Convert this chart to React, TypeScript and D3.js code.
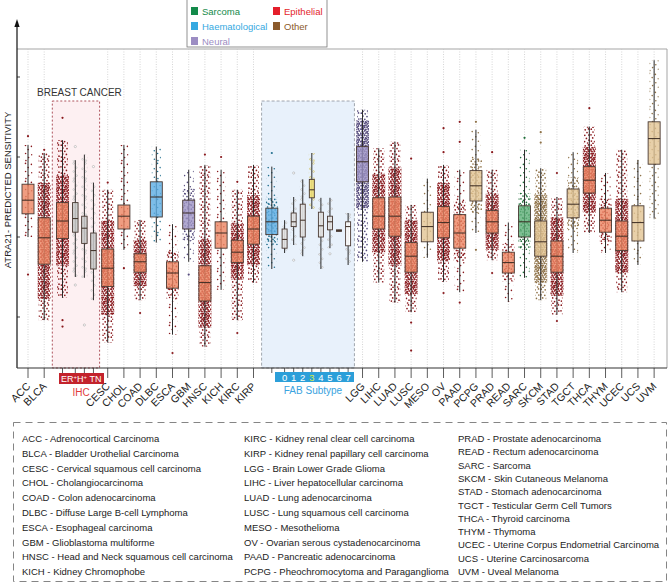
import React, { useRef, useEffect } from "react";
import * as d3 from "d3";

const W = 669;
const H = 587;
const FONT = "'Liberation Sans', Arial, Helvetica, sans-serif";

// cancer types along the x axis (BRCA and LAML carry their own sub-groups)
const categories = ["ACC", "BLCA", "BRCA", "CESC", "CHOL", "COAD", "DLBC", "ESCA", "GBM", "HNSC", "KICH", "KIRC", "KIRP", "LAML", "LGG", "LIHC", "LUAD", "LUSC", "MESO", "OV", "PAAD", "PCPG", "PRAD", "READ", "SARC", "SKCM", "STAD", "TGCT", "THCA", "THYM", "UCEC", "UCS", "UVM"];
const tissue = ["Epithelial", "Epithelial", "Epithelial", "Epithelial", "Epithelial", "Epithelial", "Haematological", "Epithelial", "Neural", "Epithelial", "Epithelial", "Epithelial", "Epithelial", "Haematological", "Neural", "Epithelial", "Epithelial", "Epithelial", "Other", "Epithelial", "Epithelial", "Other", "Epithelial", "Epithelial", "Sarcoma", "Other", "Epithelial", "Other", "Epithelial", "Epithelial", "Epithelial", "Other", "Other"];

// box plot stats (arbitrary sensitivity units)
const whiskerLow = [2.0, 0.96, 1.24, 0.68, 1.84, 1.21, 1.93, 0.78, 1.69, 0.63, 1.34, 0.96, 1.43, 1.6, 1.69, 1.43, 1.18, 1.06, 1.74, 1.44, 1.31, 2.05, 1.71, 1.19, 1.49, 1.21, 1.03, 1.8, 2.05, 1.8, 1.31, 1.65, 2.23];
const q1 = [2.29, 1.66, 1.98, 1.38, 2.1, 1.56, 2.25, 1.36, 2.1, 1.2, 1.86, 1.68, 1.91, 2.03, 2.69, 2.1, 2.01, 1.56, 1.94, 1.99, 1.86, 2.45, 2.05, 1.55, 2.0, 1.76, 1.56, 2.24, 2.55, 2.06, 1.83, 1.95, 2.91];
const median = [2.46, 1.99, 2.2, 1.61, 2.26, 1.69, 2.5, 1.55, 2.3, 1.43, 2.05, 1.81, 2.1, 2.19, 2.94, 2.26, 2.26, 1.76, 2.13, 2.18, 2.05, 2.64, 2.19, 1.68, 2.19, 1.94, 1.76, 2.41, 2.71, 2.21, 2.01, 2.18, 3.23];
const q3 = [2.66, 2.24, 2.43, 1.85, 2.4, 1.79, 2.69, 1.69, 2.46, 1.64, 2.19, 1.96, 2.26, 2.36, 3.13, 2.49, 2.5, 1.93, 2.31, 2.38, 2.28, 2.83, 2.33, 1.81, 2.39, 2.2, 1.95, 2.6, 2.88, 2.36, 2.2, 2.39, 3.44];
const whiskerHigh = [3.15, 3.05, 3.21, 2.59, 3.15, 2.21, 3.13, 2.16, 2.84, 2.9, 2.84, 2.59, 2.9, 2.88, 3.59, 3.11, 3.19, 2.4, 2.73, 2.9, 2.84, 3.34, 2.84, 2.18, 3.09, 2.86, 2.5, 3.06, 3.38, 2.8, 3.09, 2.96, 4.21];
const outliers = [[3.26, 1.53], [3.09], [3.49, 0.96, 0.88], [2.68], [1.61], [1.05], [], [0.55], [1.53], [3.03], [3.0], [2.69, 0.8], [], [3.05], [], [], [], [2.98, 0.93, 0.58], [], [3.36, 3.06, 1.3], [3.44, 3.19, 1.18], [3.44, 1.84], [3.06, 1.55], [], [3.24], [3.31, 3.18], [2.8, 0.95], [], [3.61], [], [], [], []];
// how crowded the sample cloud looks (1 sparse .. 3 dense)
const density = [1, 3, 3, 3, 1, 3, 1, 2, 2, 3, 1, 3, 3, 2, 3, 3, 3, 3, 1, 3, 2, 2, 3, 2, 2, 3, 3, 2, 3, 2, 3, 1, 1];

// breast cancer IHC subtypes
const breastSubtypes = ["ER+", "H+", "TN"];
const breastLow = [1.5, 1.49, 1.21];
const breastQ1 = [2.06, 1.92, 1.6];
const breastMed = [2.23, 2.11, 1.83];
const breastQ3 = [2.43, 2.26, 2.05];
const breastHigh = [2.96, 3.03, 2.68];
const breastOut = [[3.13, 1.4], [0.9], [2.88]];

// AML FAB subtypes
const fabSubtypes = ["0", "1", "2", "3", "4", "5", "6", "7"];
const fabLow = [1.8, 1.9, 1.76, 2.35, 1.6, 1.86, 2.07, 1.65];
const fabQ1 = [1.86, 2.13, 2.0, 2.49, 2.0, 2.09, 2.07, 1.89];
const fabMed = [1.97, 2.19, 2.21, 2.59, 2.14, 2.19, 2.08, 2.13];
const fabQ3 = [2.1, 2.3, 2.41, 2.72, 2.31, 2.26, 2.09, 2.19];
const fabHigh = [2.21, 2.5, 2.72, 3.05, 2.49, 2.49, 2.09, 2.3];
const fabOut = [[], [2.8, 1.71], [], [], [], [1.79], [], []];

const yTicks = [1, 2, 3, 4];

const legendClasses = ["Sarcoma", "Epithelial", "Haematological", "Other", "Neural"];

const fullNames: Record<string, string> = {
  ACC: "Adrenocortical Carcinoma", BLCA: "Bladder Urothelial Carcinoma", CESC: "Cervical squamous cell carcinoma",
  CHOL: "Cholangiocarcinoma", COAD: "Colon adenocarcinoma", DLBC: "Diffuse Large B-cell Lymphoma",
  ESCA: "Esophageal carcinoma", GBM: "Glioblastoma multiforme", HNSC: "Head and Neck squamous cell carcinoma",
  KICH: "Kidney Chromophobe", KIRC: "Kidney renal clear cell carcinoma", KIRP: "Kidney renal papillary cell carcinoma",
  LGG: "Brain Lower Grade Glioma", LIHC: "Liver hepatocellular carcinoma", LUAD: "Lung adenocarcinoma",
  LUSC: "Lung squamous cell carcinoma", MESO: "Mesothelioma", OV: "Ovarian serous cystadenocarcinoma",
  PAAD: "Pancreatic adenocarcinoma", PCPG: "Pheochromocytoma and Paraganglioma", PRAD: "Prostate adenocarcinoma",
  READ: "Rectum adenocarcinoma", SARC: "Sarcoma", SKCM: "Skin Cutaneous Melanoma", STAD: "Stomach adenocarcinoma",
  TGCT: "Testicular Germ Cell Tumors", THCA: "Thyroid carcinoma", THYM: "Thymoma",
  UCEC: "Uterine Corpus Endometrial Carcinoma", UCS: "Uterine Carcinosarcoma", UVM: "Uveal Melanoma",
};
const legendCols = [
  ["ACC", "BLCA", "CESC", "CHOL", "COAD", "DLBC", "ESCA", "GBM", "HNSC", "KICH"],
  ["KIRC", "KIRP", "LGG", "LIHC", "LUAD", "LUSC", "MESO", "OV", "PAAD", "PCPG"],
  ["PRAD", "READ", "SARC", "SKCM", "STAD", "TGCT", "THCA", "THYM", "UCEC", "UCS", "UVM"],
];

const boxFill: Record<string, string> = {
  Epithelial: "#EC8461", Haematological: "#5DADE2", Neural: "#9D93C4", Sarcoma: "#5DAE77", Other: "#E2C494",
};
const dotColor: Record<string, string> = {
  Epithelial: "#8A1A1E", Haematological: "#23708F", Neural: "#554B7D", Sarcoma: "#1E6E38", Other: "#8F7248",
};
const legendColor: Record<string, string> = {
  Sarcoma: "#138A4A", Haematological: "#35A9E1", Neural: "#9C8DC3", Epithelial: "#E41E2B", Other: "#8B5A2B",
};

// texture tiles used to suggest the jittered sample clouds
const tiles: Record<number, { w: number; h: number; r: number; p: number[][] }> = {
  1: { w: 12, h: 18, r: 0.8, p: [[1.5, 1.4], [7.4, 2.4], [4.2, 5.6], [10.3, 6.8], [1.6, 9.5], [7.8, 10.7], [4.6, 13.6], [10.4, 15.3], [1.9, 16.6]] },
  2: { w: 10, h: 16, r: 0.85, p: [[1.3, 1.2], [5.2, 1.8], [8.5, 0.9], [3.0, 4.0], [7.0, 4.6], [1.0, 6.8], [4.8, 7.3], [8.8, 7.0], [2.7, 9.9], [6.4, 10.4], [9.0, 12.2], [1.4, 13.1], [4.6, 13.6], [7.6, 15.0], [3.0, 15.3]] },
  3: {
    w: 10, h: 16, r: 0.95, p: [
      [1.0, 1.1], [3.4, 0.9], [5.9, 1.5], [8.3, 1.0], [2.2, 3.2], [4.7, 2.9], [7.1, 3.6], [9.2, 3.0],
      [0.9, 5.3], [3.5, 5.6], [5.8, 5.1], [8.0, 5.8], [2.0, 7.6], [4.4, 7.3], [6.9, 7.9], [9.1, 7.4],
      [1.2, 9.7], [3.2, 9.4], [5.6, 10.0], [8.2, 9.6], [2.4, 11.8], [4.9, 11.4], [7.3, 11.9], [9.2, 11.3],
      [0.9, 13.6], [3.6, 13.9], [6.0, 13.3], [8.4, 14.0], [2.0, 15.1], [4.7, 15.2], [7.0, 15.1],
    ],
  },
};

const App = () => {
  const svgRef = useRef<SVGSVGElement>(null);

  useEffect(() => {
    document.body.style.margin = "0";
    const svg = d3.select(svgRef.current);
    svg.selectAll("*").remove();

    const frame = { left: 17, right: 667, top: 49, bottom: 368 };

    // x layout: a linear scale over "slots", the two grouped cancers get wider slots
    const step = 16.2;
    const spans = categories.map((c) => (c === "BRCA" ? 2.92 : c === "LAML" ? 5.73 : 1));
    const starts: number[] = [];
    let total = 0;
    spans.forEach((s) => {
      starts.push(total);
      total += s;
    });
    const x0 = 28 - step / 2;
    const xu = d3.scaleLinear().domain([0, total]).range([x0, x0 + total * step]);
    const center = (i: number) => (spans[i] > 1 ? xu(starts[i] + 0.63) : xu(starts[i] + 0.5));
    const bi = categories.indexOf("BRCA");
    const li = categories.indexOf("LAML");
    const breastX = d3.scalePoint().domain(breastSubtypes)
      .range([xu(starts[bi] + 1.42), xu(starts[bi] + 1.42 + 2 * 0.56)]);
    const fabX = d3.scalePoint().domain(fabSubtypes)
      .range([xu(starts[li] + 1.42), xu(starts[li] + 1.42 + 7 * 0.56)]);

    const y = d3.scaleLinear().domain([0, 4]).range([397, 77]);

    // dot textures for the sample clouds
    const defs = svg.append("defs");
    const patKinds: Record<string, { color: string; open: boolean }> = {};
    Object.keys(dotColor).forEach((k) => (patKinds[k] = { color: dotColor[k], open: false }));
    patKinds.grey = { color: "#9a9a9a", open: true };
    patKinds.fab3 = { color: "#b9a624", open: true };
    Object.entries(patKinds).forEach(([k, v]) => {
      [1, 2, 3].forEach((lvl) => {
        const t = tiles[lvl];
        const p = defs.append("pattern").attr("id", `p-${k}-${lvl}`)
          .attr("patternUnits", "userSpaceOnUse").attr("width", t.w).attr("height", t.h);
        t.p.forEach(([px, py]) => {
          p.append("circle").attr("cx", px).attr("cy", py).attr("r", v.open ? 0.85 : t.r)
            .attr("fill", v.open ? "#fff" : v.color)
            .attr("stroke", v.open ? v.color : "none").attr("stroke-width", 0.45);
        });
      });
    });

    const g = svg.append("g");

    // shaded regions for the grouped cancers
    const regionTop = 101;
    g.append("rect").attr("x", xu(starts[bi])).attr("y", regionTop)
      .attr("width", xu(starts[bi] + spans[bi]) - xu(starts[bi])).attr("height", frame.bottom - regionTop)
      .attr("fill", "#fdf0f2").attr("stroke", "#9b2a35").attr("stroke-width", 0.8).attr("stroke-dasharray", "2,2");
    g.append("rect").attr("x", xu(starts[li])).attr("y", regionTop)
      .attr("width", xu(starts[li] + spans[li]) - xu(starts[li])).attr("height", frame.bottom - regionTop)
      .attr("fill", "#e8f1fb").attr("stroke", "#8a9099").attr("stroke-width", 0.8).attr("stroke-dasharray", "3,2");

    g.append("text").attr("x", 37).attr("y", 96).attr("font-size", 10).attr("fill", "#333")
      .attr("font-family", FONT).text("BREAST CANCER");

    // frame
    g.append("line").attr("x1", frame.left).attr("x2", frame.right).attr("y1", frame.top).attr("y2", frame.top)
      .attr("stroke", "#a5a5a5").attr("stroke-width", 1);
    g.append("line").attr("x1", frame.right).attr("x2", frame.right).attr("y1", frame.top).attr("y2", frame.bottom)
      .attr("stroke", "#a5a5a5").attr("stroke-width", 1);

    // vertical dotted guides
    categories.forEach((c, i) => {
      if (spans[i] > 1) return;
      g.append("line").attr("x1", center(i)).attr("x2", center(i)).attr("y1", frame.top).attr("y2", frame.bottom)
        .attr("stroke", "#c4c4c4").attr("stroke-width", 0.7).attr("stroke-dasharray", "1,1.5");
    });

    type Box = { cx: number; w: number; lo: number; a: number; m: number; b: number; hi: number; out: number[] };

    const drawCloud = (bx: Box, kind: string, lvl: number, subgroup: boolean) => {
      const iqr = bx.b - bx.a;
      if (subgroup) {
        g.append("rect").attr("x", bx.cx - 3).attr("width", 6)
          .attr("y", y(bx.hi)).attr("height", y(bx.lo) - y(bx.hi)).attr("fill", `url(#p-${kind}-1)`);
        return;
      }
      const tw = lvl === 1 ? 9 : lvl === 2 ? 10 : 11;
      g.append("rect").attr("x", bx.cx - tw / 2).attr("width", tw)
        .attr("y", y(bx.hi)).attr("height", y(bx.lo) - y(bx.hi))
        .attr("fill", `url(#p-${kind}-${Math.max(1, lvl - 1)})`);
      if (lvl > 1) {
        const ext = lvl === 3 ? 0.75 : 0.4;
        const top = Math.min(bx.hi, bx.b + ext * iqr);
        const bot = Math.max(bx.lo, bx.a - ext * iqr);
        const cw = lvl === 3 ? 13 : 12;
        g.append("rect").attr("x", bx.cx - cw / 2).attr("width", cw)
          .attr("y", y(top)).attr("height", y(bot) - y(top)).attr("fill", `url(#p-${kind}-${lvl})`);
      }
    };

    const drawBox = (bx: Box, fill: string, opacity: number, outColor: string, openOut: boolean) => {
      g.append("line").attr("x1", bx.cx).attr("x2", bx.cx).attr("y1", y(bx.hi)).attr("y2", y(bx.lo))
        .attr("stroke", "#2b2b2b").attr("stroke-width", 1);
      g.append("rect").attr("x", bx.cx - bx.w / 2).attr("width", bx.w)
        .attr("y", y(bx.b)).attr("height", Math.max(0.8, y(bx.a) - y(bx.b)))
        .attr("fill", fill).attr("fill-opacity", opacity).attr("stroke", "#4a3a33").attr("stroke-width", 0.9);
      g.append("line").attr("x1", bx.cx - bx.w / 2).attr("x2", bx.cx + bx.w / 2)
        .attr("y1", y(bx.m)).attr("y2", y(bx.m)).attr("stroke", "#3a2a22").attr("stroke-width", 1);
      bx.out.forEach((v) => {
        g.append("circle").attr("cx", bx.cx).attr("cy", y(v)).attr("r", 1.1)
          .attr("fill", openOut ? "#fff" : outColor).attr("stroke", openOut ? outColor : "none").attr("stroke-width", 0.5);
      });
    };

    // main cancer types
    categories.forEach((c, i) => {
      const bx: Box = { cx: center(i), w: 12, lo: whiskerLow[i], a: q1[i], m: median[i], b: q3[i], hi: whiskerHigh[i], out: outliers[i] };
      drawCloud(bx, tissue[i], density[i], false);
      drawBox(bx, boxFill[tissue[i]], 0.8, dotColor[tissue[i]], false);
    });

    // breast subtypes
    breastSubtypes.forEach((s, k) => {
      const bx: Box = { cx: breastX(s)!, w: 5.5, lo: breastLow[k], a: breastQ1[k], m: breastMed[k], b: breastQ3[k], hi: breastHigh[k], out: breastOut[k] };
      drawCloud(bx, "grey", 1, true);
      drawBox(bx, "#c9c9c9", 0.85, "#9a9a9a", true);
    });

    // FAB subtypes
    fabSubtypes.forEach((s, k) => {
      const kind = s === "3" ? "fab3" : "grey";
      const bx: Box = { cx: fabX(s)!, w: 5, lo: fabLow[k], a: fabQ1[k], m: fabMed[k], b: fabQ3[k], hi: fabHigh[k], out: fabOut[k] };
      drawCloud(bx, kind, 1, true);
      const fill = s === "3" ? "#F2E27A" : s === "7" ? "#ffffff" : "#e4e4e4";
      drawBox(bx, fill, 0.9, s === "3" ? "#b9a624" : "#9a9a9a", true);
    });

    // y axis with arrow
    g.append("line").attr("x1", frame.left).attr("x2", frame.left).attr("y1", frame.bottom).attr("y2", 24)
      .attr("stroke", "#111").attr("stroke-width", 1.2);
    g.append("path").attr("d", `M${frame.left},19 L${frame.left - 2.6},27 L${frame.left + 2.6},27 Z`).attr("fill", "#111");
    yTicks.forEach((t) => {
      g.append("line").attr("x1", frame.left).attr("x2", frame.left + 3).attr("y1", y(t)).attr("y2", y(t))
        .attr("stroke", "#111").attr("stroke-width", 0.8);
    });
    g.append("text").attr("transform", `translate(11,190) rotate(-90)`).attr("text-anchor", "middle")
      .attr("font-size", 9.5).attr("fill", "#222").attr("font-family", FONT).text("ATRA21- PREDICTED SENSITIVITY");

    // x axis
    g.append("line").attr("x1", frame.left).attr("x2", frame.right).attr("y1", frame.bottom).attr("y2", frame.bottom)
      .attr("stroke", "#333").attr("stroke-width", 1.1);
    categories.forEach((c, i) => {
      const cx = center(i);
      if (spans[i] > 1) {
        g.append("line").attr("x1", cx).attr("x2", cx).attr("y1", frame.bottom).attr("y2", frame.bottom + 5)
          .attr("stroke", "#333").attr("stroke-width", 0.8);
        return;
      }
      g.append("line").attr("x1", cx).attr("x2", cx).attr("y1", frame.bottom).attr("y2", frame.bottom + 10)
        .attr("stroke", "#333").attr("stroke-width", 0.8);
      g.append("text").attr("transform", `translate(${cx + 3},${frame.bottom + 19}) rotate(-45)`)
        .attr("text-anchor", "end").attr("font-size", 10.5).attr("fill", "#222").attr("font-family", FONT).text(c);
    });
    breastSubtypes.forEach((s) => {
      g.append("line").attr("x1", breastX(s)!).attr("x2", breastX(s)!).attr("y1", frame.bottom).attr("y2", frame.bottom + 5)
        .attr("stroke", "#333").attr("stroke-width", 0.8);
    });
    fabSubtypes.forEach((s) => {
      g.append("line").attr("x1", fabX(s)!).attr("x2", fabX(s)!).attr("y1", frame.bottom).attr("y2", frame.bottom + 4)
        .attr("stroke", "#333").attr("stroke-width", 0.8);
    });

    // IHC tag
    g.append("rect").attr("x", 59).attr("y", 373).attr("width", 45).attr("height", 11).attr("fill", "#C3232C");
    const ihc = g.append("text").attr("x", 61).attr("y", 382).attr("font-size", 9).attr("fill", "#fff").attr("font-family", FONT);
    ihc.append("tspan").text("ER");
    ihc.append("tspan").attr("font-size", 6).attr("dy", -3).text("+");
    ihc.append("tspan").attr("dy", 3).text("H");
    ihc.append("tspan").attr("font-size", 6).attr("dy", -3).text("+");
    ihc.append("tspan").attr("dy", 3).text(" TN");
    g.append("text").attr("x", 81).attr("y", 396).attr("text-anchor", "middle").attr("font-size", 10)
      .attr("fill", "#E23B3B").attr("font-family", FONT).text("IHC");

    // FAB tag
    g.append("rect").attr("x", 275).attr("y", 372).attr("width", 79).attr("height", 10).attr("fill", "#2C9FD9");
    fabSubtypes.forEach((s) => {
      g.append("text").attr("x", fabX(s)!).attr("y", 380.5).attr("text-anchor", "middle").attr("font-size", 9.5)
        .attr("fill", s === "3" ? "#D6EC4A" : "#fff").attr("font-family", FONT).text(s);
    });
    g.append("text").attr("x", 313).attr("y", 394).attr("text-anchor", "middle").attr("font-size", 10)
      .attr("fill", "#3AA3E0").attr("font-family", FONT).text("FAB Subtype");

    // top legend
    g.append("rect").attr("x", 187).attr("y", -1).attr("width", 140).attr("height", 48)
      .attr("fill", "#fff").attr("stroke", "#777").attr("stroke-width", 0.8);
    legendClasses.forEach((cls, k) => {
      const col = k % 2;
      const row = Math.floor(k / 2);
      const lx = col === 0 ? 191 : 273;
      const ly = 7 + row * 15;
      g.append("rect").attr("x", lx).attr("y", ly).attr("width", 7).attr("height", 8).attr("fill", legendColor[cls]);
      g.append("text").attr("x", lx + 11).attr("y", ly + 7.5).attr("font-size", 9.5)
        .attr("fill", legendColor[cls]).attr("font-family", FONT).text(cls);
    });

    // abbreviation legend
    g.append("rect").attr("x", 13.5).attr("y", 422.5).attr("width", 653).attr("height", 159)
      .attr("fill", "none").attr("stroke", "#777").attr("stroke-width", 0.9).attr("stroke-dasharray", "7,5");
    const colX = [22, 244, 458];
    const colStep = [14.8, 14.8, 13.3];
    legendCols.forEach((col, ci) => {
      col.forEach((ab, r) => {
        g.append("text").attr("x", colX[ci]).attr("y", 442 + r * colStep[ci]).attr("font-size", 9.5)
          .attr("fill", "#222").attr("font-family", FONT).text(`${ab} - ${fullNames[ab]}`);
      });
    });
  }, []);

  return <svg ref={svgRef} width={W} height={H} style={{ display: "block", background: "#fff" }} />;
};

export default App;
